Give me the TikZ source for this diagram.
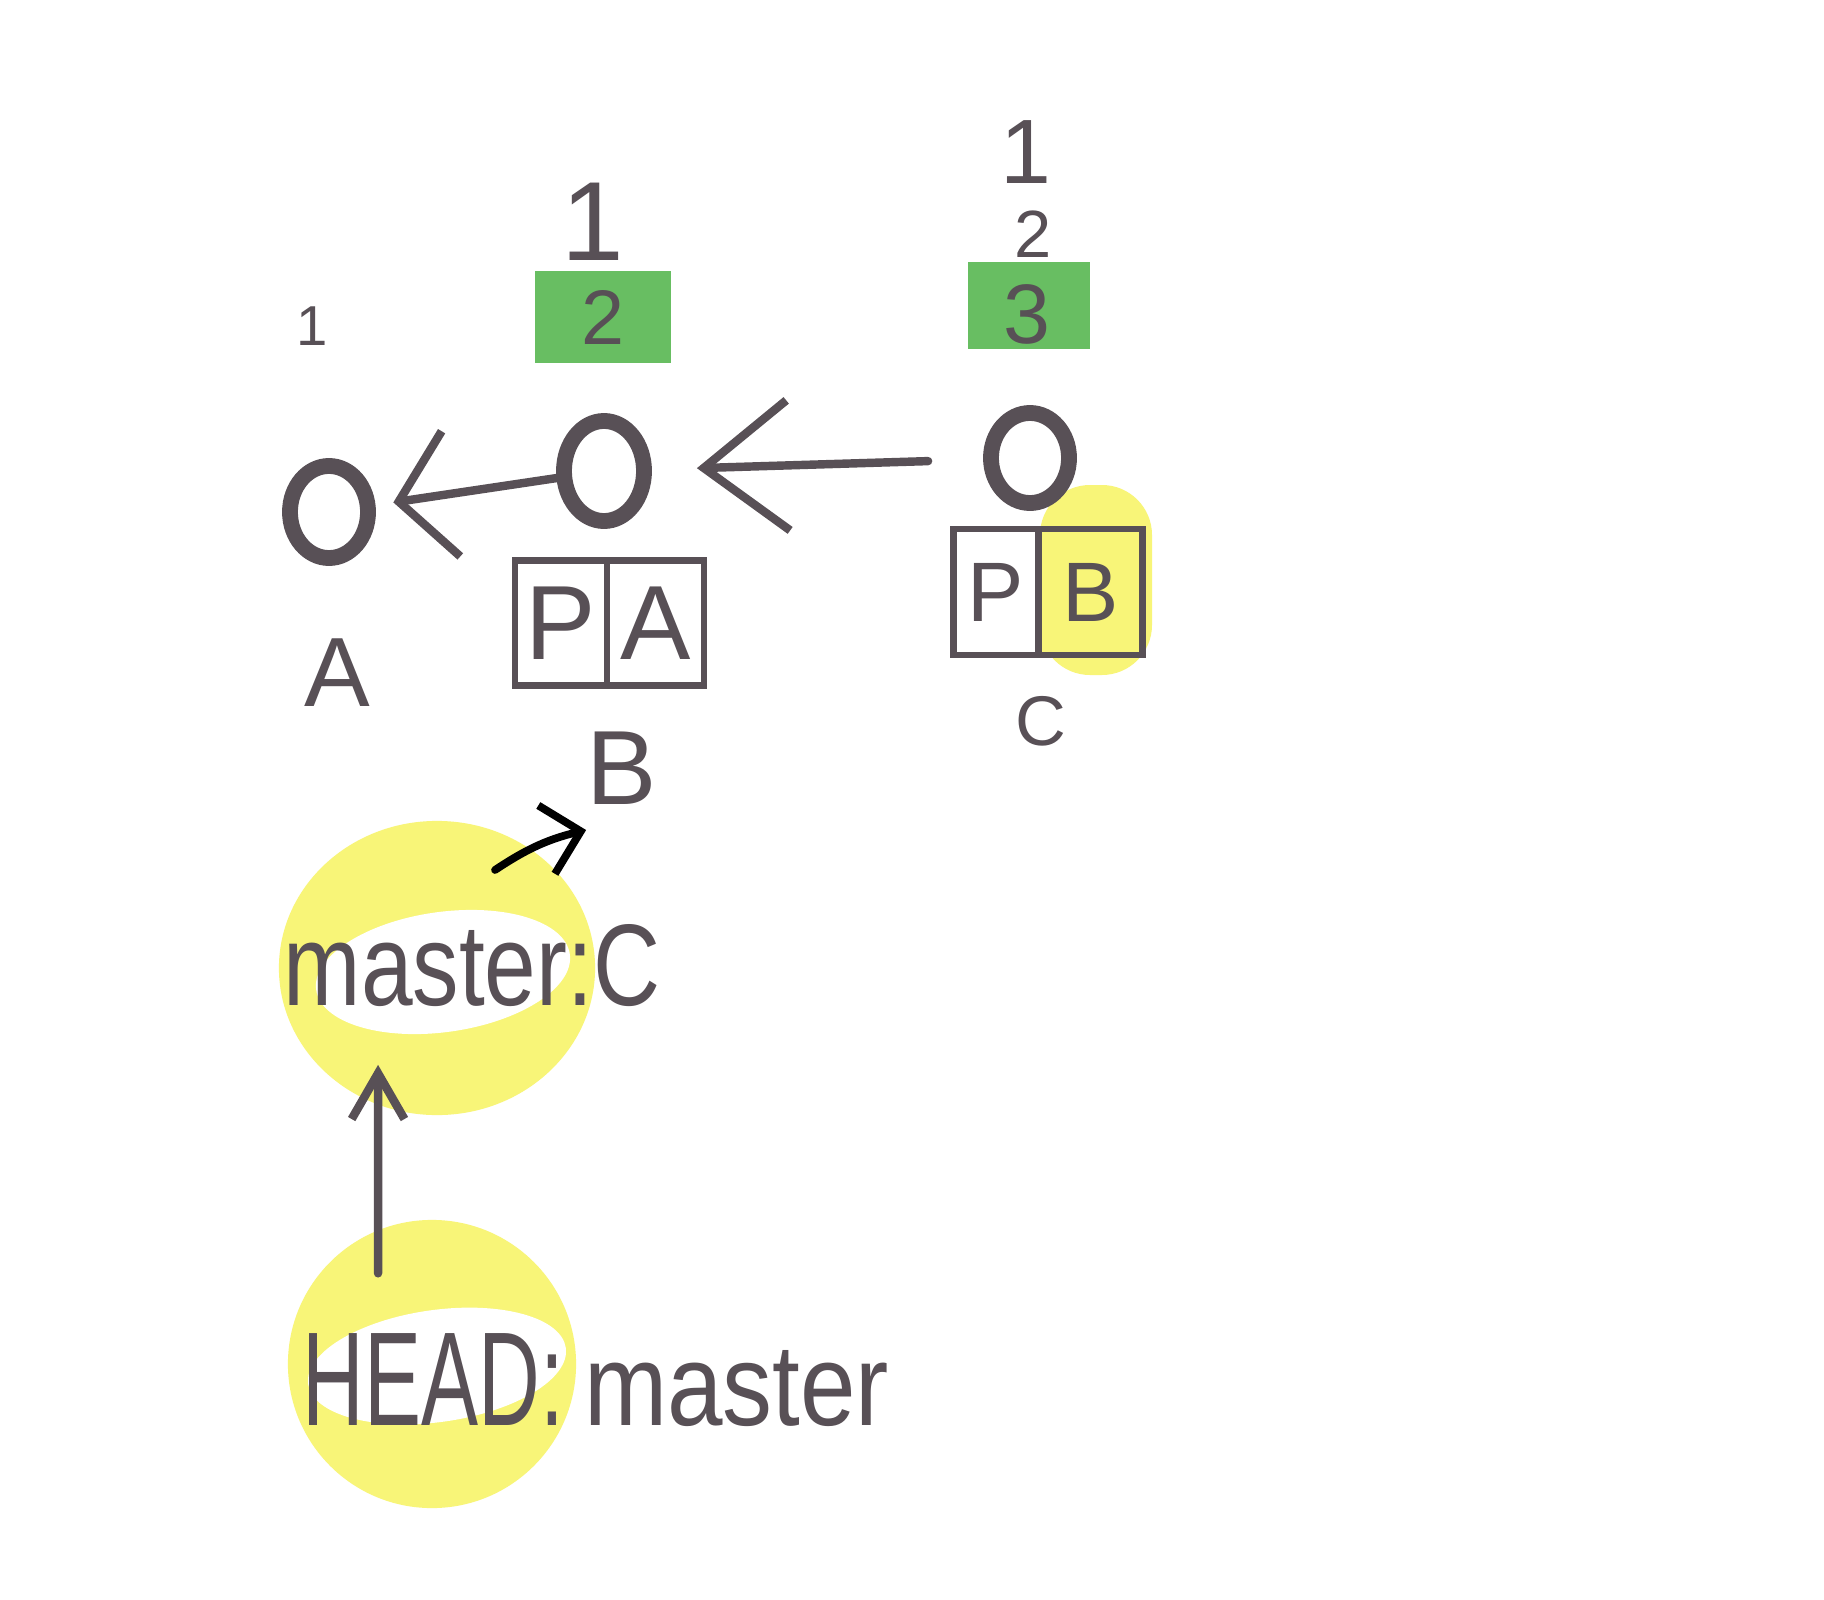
\documentclass[tikz,border=0pt]{standalone}
\usepackage{fontspec}
\setmainfont{Liberation Sans}
\usepackage{tikz}
\usetikzlibrary{arrows.meta,positioning,shapes.geometric}
\definecolor{ink}{RGB}{88,80,86}
\definecolor{mkgreen}{RGB}{104,190,98}
\definecolor{mkyellow}{RGB}{248,245,120}

\begin{document}
\begin{tikzpicture}[x=0.01cm,y=-0.01cm,line cap=round,
  commit/.style={ellipse,draw=ink,line width=4.5pt,minimum width=0.78cm,minimum height=0.92cm,inner sep=0pt},
  cell/.style={rectangle,draw=ink,line width=1.8pt,inner sep=0pt,outer sep=0pt,text=ink},
  tag/.style={inner sep=0pt,text=ink},
  link/.style={draw=ink,line width=2.4pt}]
  \path[use as bounding box,fill=white] (0,0) rectangle (1824,1600);
  % highlighter marks
  \fill[mkgreen] (535,271) rectangle (671,363);
  \fill[mkgreen] (968,262) rectangle (1090,349);
  \fill[mkyellow,rounded corners=0.5cm] (1040,485) rectangle (1152,675);
  \fill[mkyellow] (437,968) ellipse [x radius=1.58cm,y radius=1.47cm];
  \fill[white,rotate around={8:(443,972)}] (443,972) ellipse [x radius=1.28cm,y radius=0.6cm];
  \fill[mkyellow] (432,1364) ellipse [x radius=1.44cm,y radius=1.44cm];
  \fill[white,rotate around={8:(437,1366)}] (437,1366) ellipse [x radius=1.3cm,y radius=0.56cm];

  % commits
  \node[commit] (cA) at (329,512) {};
  \node[commit,minimum width=0.8cm,minimum height=1.0cm] (cB) at (604,471) {};
  \node[commit,minimum height=0.9cm] (cC) at (1030,458) {};
  \draw[link,-{Straight Barb[length=15pt,width=36pt]},shorten >=0.18cm] (cB) -- (cA);
  \draw[link,-{Straight Barb[length=24pt,width=37pt]},shorten <=0.55cm,shorten >=0.45cm] (cC) -- (cB);

  % counters
  \node[tag,font=\fontsize{16}{18}\selectfont] (nA1) at (312,326) {1};
  \node[tag,font=\fontsize{32}{34}\selectfont] (nB1) at (593,222) {1};
  \node[tag,font=\fontsize{22}{24}\selectfont] (nB2) at (603,317) {2};
  \node[tag,font=\fontsize{26}{28}\selectfont] (nC1) at (1026,152) {1};
  \node[tag,font=\fontsize{19}{21}\selectfont] (nC2) at (1033,234) {2};
  \node[tag,font=\fontsize{24}{26}\selectfont] (nC3) at (1027,314) {3};

  % parent boxes
  \node[cell,minimum width=0.92cm,minimum height=1.25cm,font=\fontsize{30}{32}\selectfont] (pB) at (561,623) {P};
  \node[cell,minimum width=0.97cm,minimum height=1.25cm,font=\fontsize{30}{32}\selectfont,right=0pt of pB] (rB) {A};
  \node[cell,minimum width=0.85cm,minimum height=1.26cm,font=\fontsize{24}{26}\selectfont] (pC) at (996,592) {P};
  \node[cell,minimum width=1.04cm,minimum height=1.26cm,font=\fontsize{24}{26}\selectfont,fill=mkyellow,right=0pt of pC] (rC) {B};

  % commit names
  \node[tag,font=\fontsize{28}{30}\selectfont] (lA) at (337,673) {A};
  \node[tag,font=\fontsize{30}{32}\selectfont] (lB) at (622,768) {B};
  \node[tag,font=\fontsize{20}{22}\selectfont] (lC) at (1041,721) {C};

  % refs
  \node[tag,anchor=base west] (mref) at (283,1005)
    {\scalebox{0.8}[1]{\fontsize{33}{36}\selectfont master:C}};
  \node[tag,anchor=base west] (href) at (302,1425)
    {\scalebox{0.64}[1]{\fontsize{38}{40}\selectfont HEAD:}\hspace{0.2cm}\scalebox{0.86}[1]{\fontsize{33}{36}\selectfont master}};
  \coordinate (mtail) at (495,870);
  \draw[black,line width=2.2pt,-{Straight Barb[length=10pt,width=20pt]}] (mtail) to[bend left=10] ([yshift=-0.25cm]lB.south west);
  \draw[link,-{Straight Barb[length=13pt,width=15pt]},shorten <=0.59cm,shorten >=0.58cm] ([xshift=0.76cm]href.north west) -- ([xshift=0.95cm]mref.south west);
\end{tikzpicture}
\end{document}
